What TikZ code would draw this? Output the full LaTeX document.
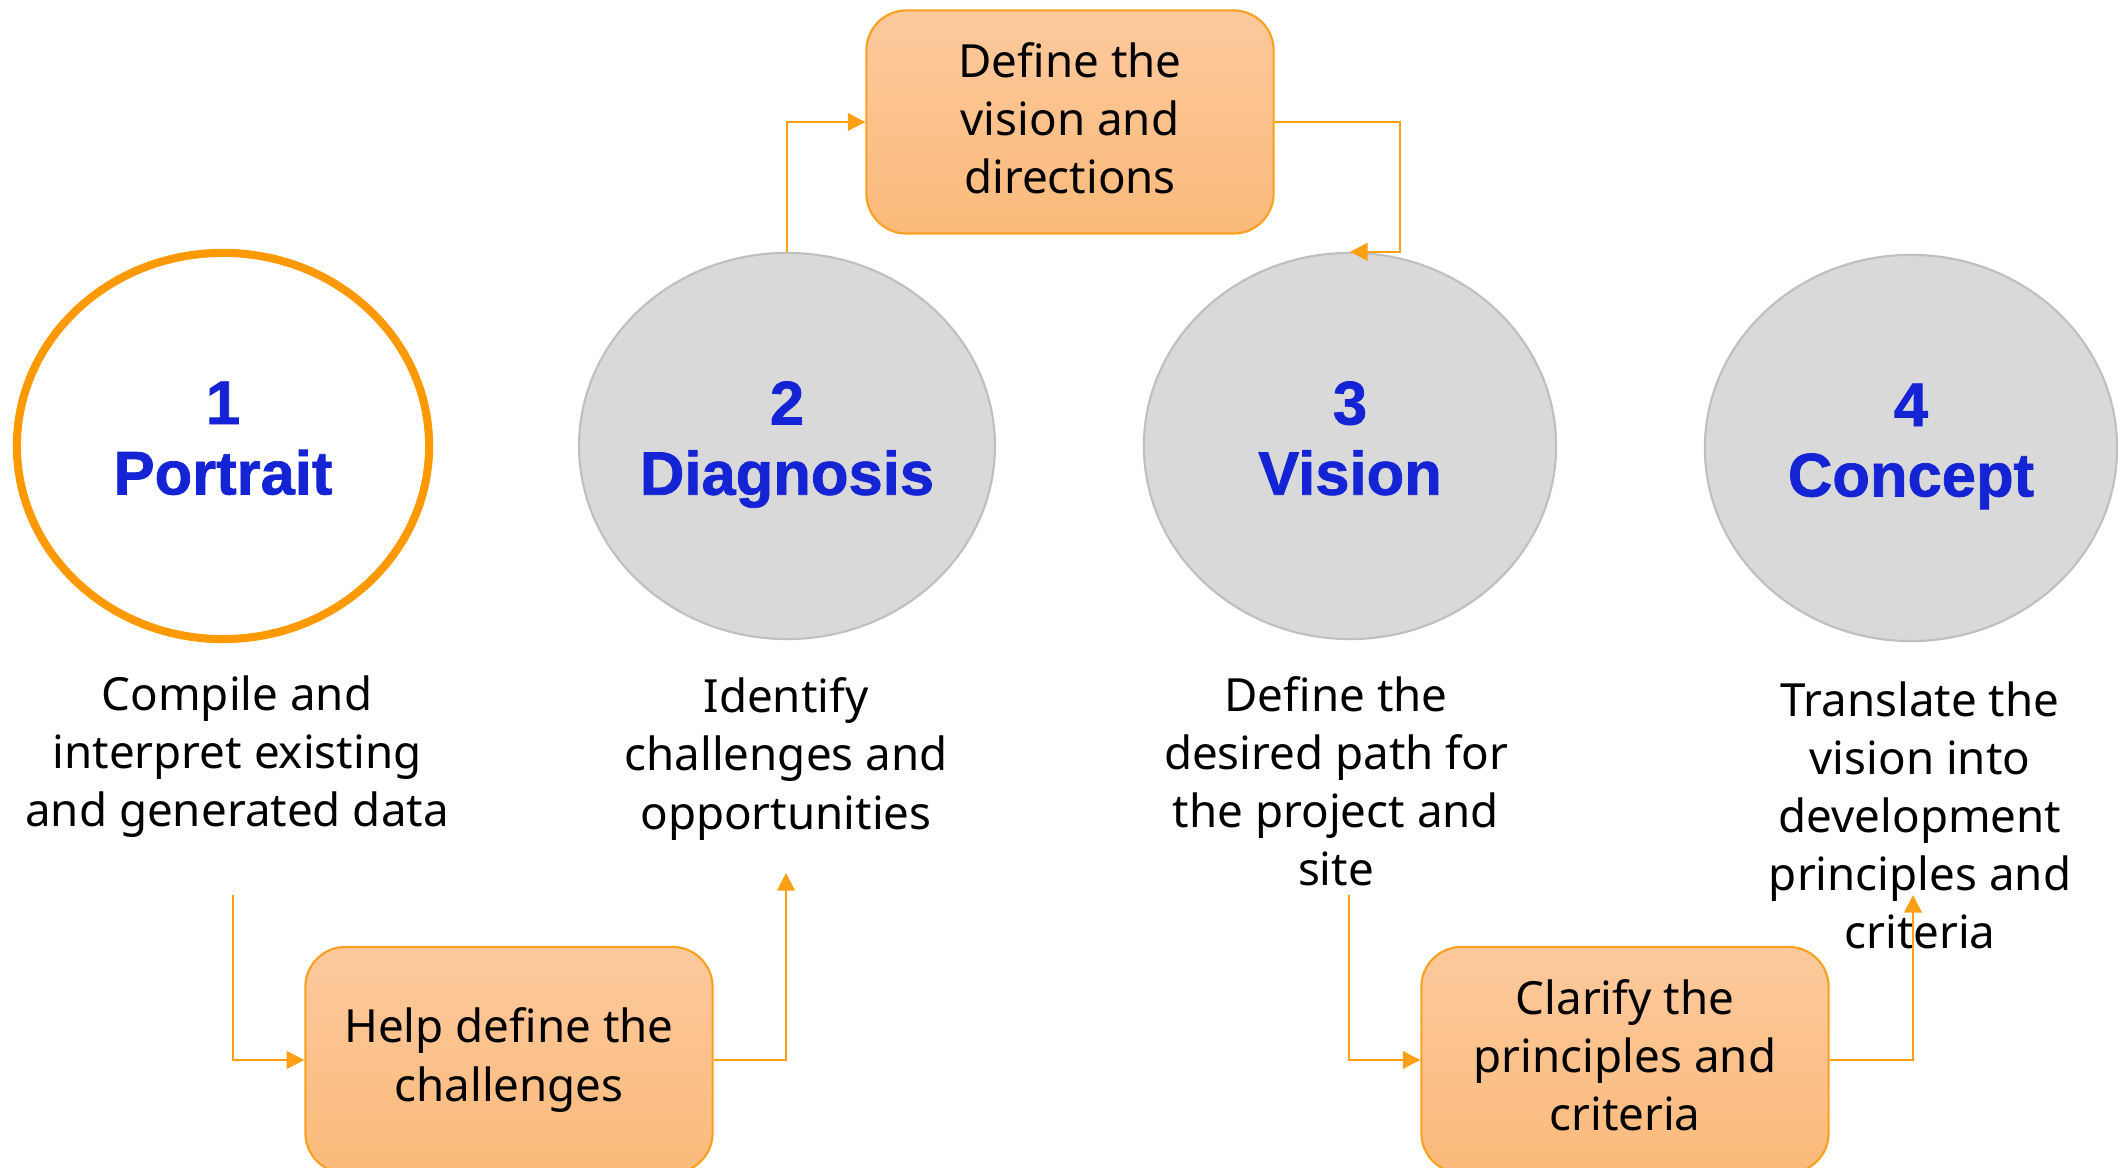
\documentclass[tikz,border=0pt]{standalone}
\usepackage{fontspec}
\setmainfont{Noto Sans}
\newfontfamily\labelfont[BoldFeatures={FakeBold=1.2}]{Liberation Sans}
\usetikzlibrary{shapes.geometric,arrows.meta}
\definecolor{stepblue}{RGB}{20,36,212}
\definecolor{ringorange}{RGB}{255,153,0}
\definecolor{linkorange}{RGB}{255,160,20}
\definecolor{boxtop}{RGB}{252,201,157}
\definecolor{boxbottom}{RGB}{251,186,122}
\definecolor{boxedge}{RGB}{250,160,30}
\definecolor{discfill}{RGB}{217,217,217}
\definecolor{discedge}{RGB}{191,191,191}
\newcommand{\steplabel}[2]{\vphantom{Dg}#1\\\vphantom{Dg}#2\rule[-4.5pt]{0pt}{0pt}}
\begin{document}
\begin{tikzpicture}[x=0.01cm,y=-0.01cm,
    phase/.style={ellipse, minimum width=4.12cm, minimum height=3.86cm, inner sep=0pt, align=center, text=stepblue, font=\labelfont\bfseries\fontsize{17.5}{20}\selectfont},
    disc/.style={phase, fill=discfill, draw=discedge, line width=0.6pt},
    ring/.style={phase, draw=ringorange, line width=2.3pt},
    task/.style={rounded corners=0.4cm, draw=boxedge, line width=0.6pt, top color=boxtop, bottom color=boxbottom, minimum width=4.07cm, align=center, font=\fontsize{13}{16.5}\selectfont},
    note/.style={align=center, font=\fontsize{13}{16.5}\selectfont},
    link/.style={draw=linkorange, line width=0.6pt, -{Triangle[length=5pt,width=5pt]}}]
    \useasboundingbox (0,0) rectangle (2121,1168);
    \clip (0,0) rectangle (2121,1168);
    \node[ring] (portrait) at (223,446) {\steplabel{1}{Portrait}};
    \node[disc] (diagnosis) at (787,446) {\steplabel{2}{Diagnosis}};
    \node[disc] (vision) at (1350,446) {\steplabel{3}{Vision}};
    \node[disc] (concept) at (1911,448) {\steplabel{4}{Concept}};
    \node[note] (compile) at (237,757) {Compile and\\interpret existing\\and generated data};
    \node[note] (identify) at (786,759) {Identify\\challenges and\\opportunities};
    \node[note] (path) at (1336,781) {Define the\\desired path for\\the project and\\site};
    \node[note] (translate) at (1920,815) {Translate the\\vision into\\development\\principles and\\criteria};
    \node[task, minimum height=2.23cm] (directions) at (1070,122) {Define the\\vision and\\directions\rule[-2.3pt]{0pt}{0pt}};
    \node[task, minimum height=2.26cm] (challenges) at (509,1060) {Help define the\\challenges};
    \node[task, minimum height=2.26cm] (criteria) at (1625,1060) {Clarify the\\principles and\\criteria\rule[-3pt]{0pt}{0pt}};
    \coordinate (compileout) at (233,895);
    \coordinate (identifyin) at (786,873);
    \coordinate (pathout) at (1349,895);
    \coordinate (translatein) at (1913,895);
    \draw[link] (diagnosis.north) |- (directions.west);
    \draw[link] (directions.east) -- ++(125,0) |- (vision.north);
    \draw[link] (compileout) |- (challenges.west);
    \draw[link] (challenges.east) -| (identifyin);
    \draw[link] (pathout) |- (criteria.west);
    \draw[link] (criteria.east) -| (translatein);
\end{tikzpicture}
\end{document}
